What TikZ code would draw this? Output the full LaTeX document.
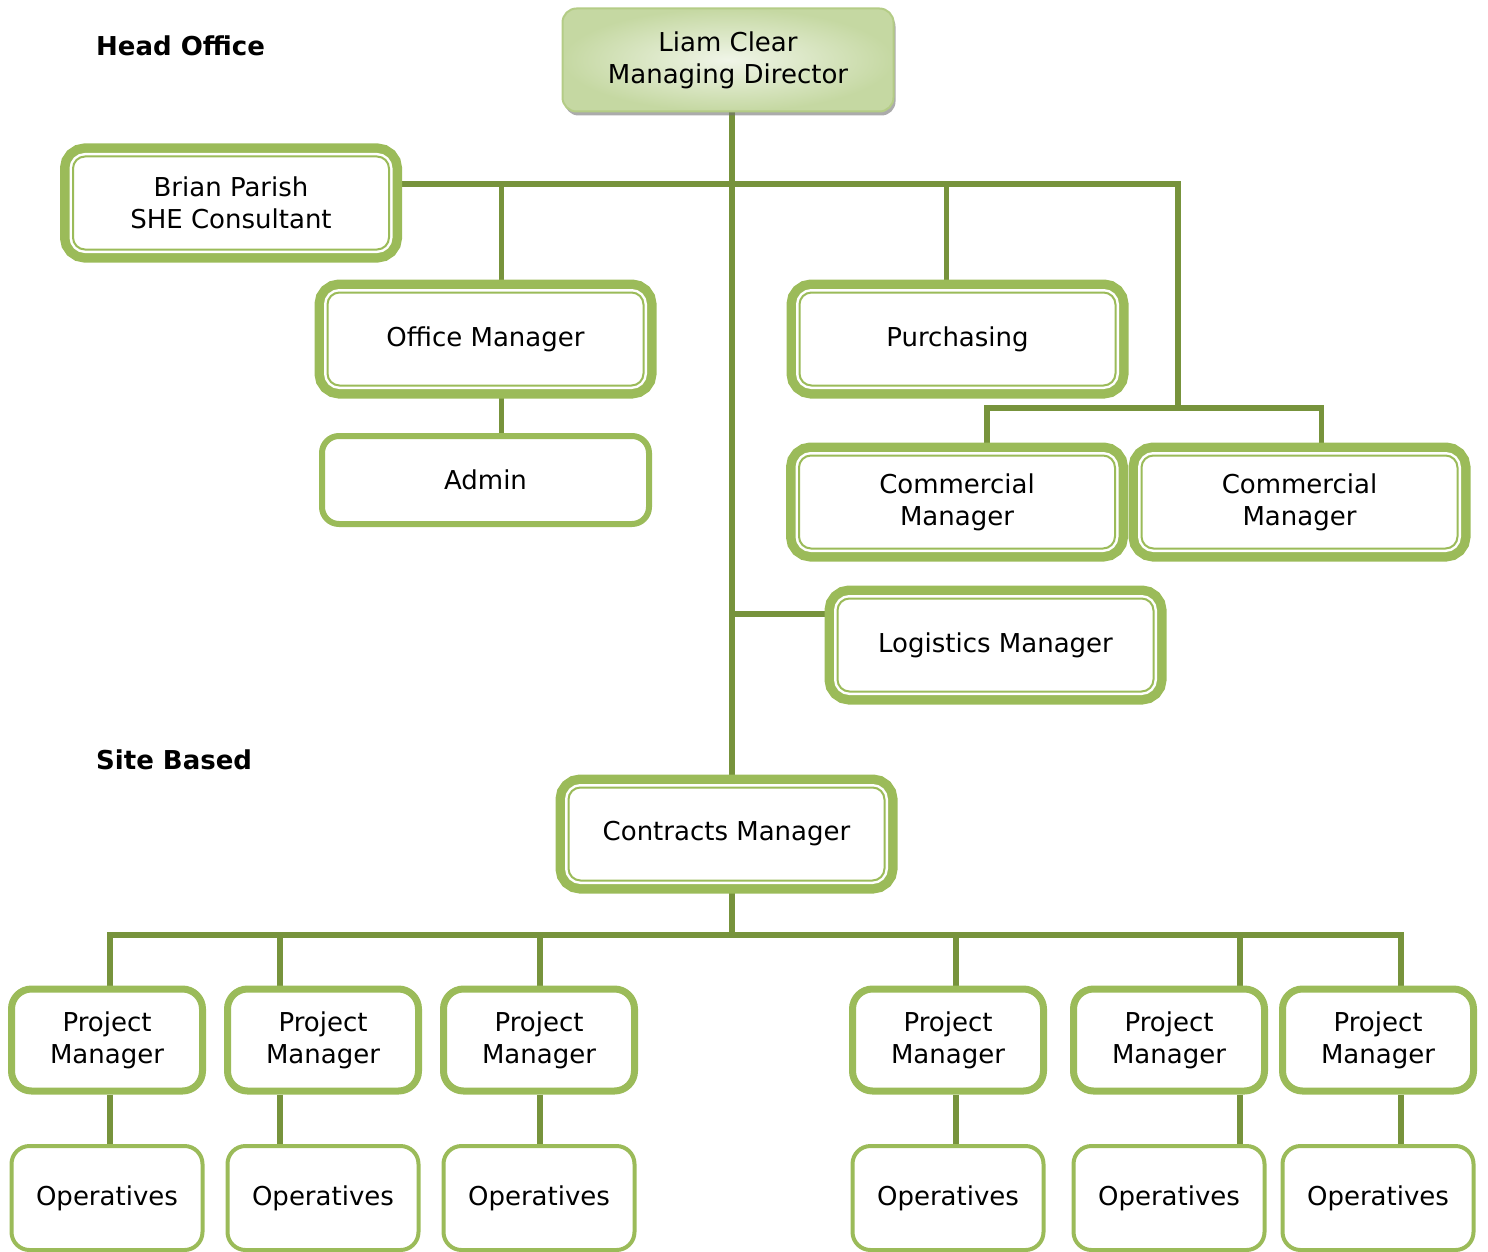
\documentclass[tikz,border=0pt]{standalone}
\usepackage{fontspec}
\setmainfont{DejaVu Sans}
\usetikzlibrary{shadows,backgrounds}
\definecolor{boxgreen}{HTML}{9BBB59}
\definecolor{linkgreen}{HTML}{77933C}
\definecolor{mdlight}{HTML}{F0F5E8}
\definecolor{mddark}{HTML}{C5D8A2}
\definecolor{mdline}{HTML}{B4CC86}

\begin{document}
\begin{tikzpicture}[x=1pt,y=-1pt,
	font=\fontsize{26}{32}\selectfont,
	every node/.style={align=center, inner sep=0pt},
	mdbox/.style={rectangle, rounded corners=14pt, minimum width=331pt, minimum height=103pt,
		draw=mdline, line width=2pt, inner color=mdlight, outer color=mddark,
		drop shadow={shadow xshift=2pt, shadow yshift=-4pt, fill=black!55, opacity=0.6}},
	dbox/.style={rectangle, rounded corners=12pt, minimum width=316pt, minimum height=93pt,
		fill=white, draw=boxgreen, line width=2pt,
		preaction={draw=boxgreen, line width=26pt}, preaction={draw=white, line width=7pt}},
	adminbox/.style={rectangle, rounded corners=17pt, minimum width=327pt, minimum height=88pt,
		fill=white, draw=boxgreen, line width=6pt},
	pmbox/.style={rectangle, rounded corners=20pt, minimum width=191pt, minimum height=102pt,
		fill=white, draw=boxgreen, line width=7pt},
	opbox/.style={rectangle, rounded corners=18pt, minimum width=191pt, minimum height=104pt,
		fill=white, draw=boxgreen, line width=4pt},
	heading/.style={anchor=base west, font=\fontsize{26}{32}\selectfont\bfseries},
	link/.style={draw=linkgreen, line width=5.5pt}]
	\useasboundingbox (0,0) rectangle (1488,1252);

	\node[heading] (headoffice) at (96,56) {Head Office};
	\node[heading] (sitebased) at (96,769) {Site Based};

	\node[mdbox] (md) at (728,60) {Liam Clear\\Managing Director};
	\node[dbox] (brian) at (231,203) {Brian Parish\\SHE Consultant};
	\node[dbox] (office) at (485.5,339) {Office Manager};
	\node[adminbox] (admin) at (485.5,480) {Admin};
	\node[dbox] (purchasing) at (957.5,339) {Purchasing};
	\node[dbox] (comma) at (957,502) {Commercial\\Manager};
	\node[dbox] (commb) at (1299.5,502) {Commercial\\Manager};
	\node[dbox] (logistics) at (995.5,645) {Logistics Manager};
	\node[dbox] (contracts) at (726.5,834) {Contracts Manager};

	\foreach \n/\x in {1/107,2/323,3/539,4/948,5/1169,6/1378} {
		\node[pmbox] (pm\n) at (\x,1040) {Project\\Manager};
		\node[opbox] (ops\n) at (\x,1198) {Operatives};
	}

	\coordinate (top) at (732,184);
	\coordinate (cmtop) at (1178,408);
	\coordinate (site) at (732,935);

	\begin{scope}[on background layer]
		\draw[link] (md.south -| top) -- (contracts.north -| top);
		\draw[link] (brian.east |- top) -| (cmtop);
		\draw[link] ([xshift=16pt]office.north) -- ([xshift=16pt]office.north |- top);
		\draw[link] ([xshift=16pt]office.south) -- ([xshift=16pt]admin.north);
		\draw[link] ([xshift=-11pt]purchasing.north) -- ([xshift=-11pt]purchasing.north |- top);
		\draw[link] ([xshift=30pt]comma.north) |- (cmtop) -| ([xshift=22pt]commb.north);
		\draw[link] (logistics.west |- 0,614) -- (top |- 0,614);
		\draw[link] (contracts.south -| top) -- (site);
		\foreach \n/\dx in {1/3,2/-43,3/1,4/8,5/71,6/23} {
			\draw[link] ([xshift=\dx pt]pm\n.north) |- (site);
			\draw[link] ([xshift=\dx pt]pm\n.south) -- ([xshift=\dx pt]pm\n.south |- ops\n.north);
		}
	\end{scope}
\end{tikzpicture}
\end{document}
